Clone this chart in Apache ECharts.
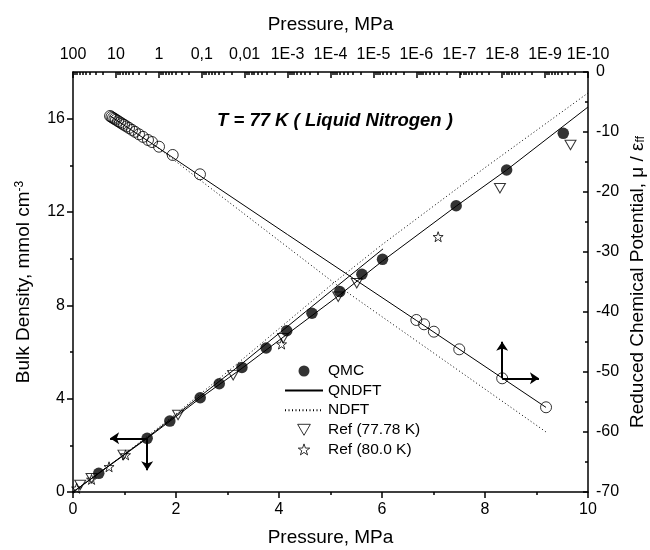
<!DOCTYPE html>
<html>
<head>
<meta charset="utf-8">
<script src="https://cdn.jsdelivr.net/npm/echarts@6.0.0/dist/echarts.min.js"></script>
<style>
  html, body { margin: 0; padding: 0; background: #fff; }
  #chart-container { width: 650px; height: 550px; }
</style>
</head>
<body>
<div id="chart-container"></div>
<script>
// density vs pressure (bottom / left axes)
var qmcP   = [0.5, 1.44, 1.88, 2.47, 2.84, 3.28, 3.75, 4.15, 4.64, 5.18, 5.61, 6.01, 7.44, 8.42, 9.52];
var qmcRho = [0.8, 2.30, 3.04, 4.04, 4.64, 5.34, 6.17, 6.91, 7.66, 8.59, 9.33, 9.97, 12.27, 13.80, 15.37];

var qndftP    = [0, 1.44, 2.47, 3.28, 4.15, 5.18, 6.01, 7.44, 8.42, 10];
var qndftRho  = [0, 2.30, 4.02, 5.30, 6.75, 8.45, 9.90, 12.25, 13.80, 16.5];
var qndft2P   = [0, 1.44, 3.28, 4.64, 6.02];
var qndft2Rho = [0, 2.33, 5.50, 7.95, 10.42];

var ndftP   = [0, 1, 2, 3, 4, 5, 6, 7, 8, 9, 10];
var ndftRho = [0, 1.62, 3.35, 5.15, 7.0, 8.85, 10.6, 12.25, 13.9, 15.5, 17.1];

var ref77P   = [0.14, 0.36, 0.98, 2.04, 3.11, 4.08, 5.15, 5.51, 8.29, 9.66];
var ref77Rho = [0.30, 0.59, 1.59, 3.30, 5.01, 6.59, 8.37, 8.95, 13.02, 14.87];

var ref80P   = [0.07, 0.36, 0.70, 1.02, 4.05, 7.09];
var ref80Rho = [0.16, 0.54, 1.08, 1.59, 6.34, 10.94];

// chemical potential vs pressure (top log axis / right axis)
var muP = [13.7, 12.7, 11.7, 10.8, 9.95, 8.93, 8.04, 7.21, 6.47, 5.66, 4.95, 4.22, 3.59,
           2.90, 2.34, 1.79, 1.44, 0.99, 0.475, 0.110, 1.0e-6, 6.6e-7, 3.9e-7, 1.0e-7, 1.0e-8, 9.5e-10];
var muVal = [-7.33, -7.49, -7.65, -7.80, -7.96, -8.18, -8.39, -8.60, -8.81, -9.07, -9.33, -9.65, -9.97,
             -10.39, -10.81, -11.33, -11.67, -12.45, -13.83, -17.05, -41.33, -42.05, -43.28, -46.22, -51.05, -55.88];

var qndftMuP = [13.8, 1, 1e-3, 1e-6, 9.5e-10];
var qndftMu  = [-7.3, -12.7, -27.1, -41.4, -55.9];
var ndftMuP  = [1.2, 7.1e-5, 9.5e-10];
var ndftMu   = [-12.3, -35.5, -60.0];

// axis ticks
var leftTicks = [0, 4, 8, 12, 16];
var topTicks = [100, 10, 1, 0.1, 0.01, 1e-3, 1e-4, 1e-5, 1e-6, 1e-7, 1e-8, 1e-9, 1e-10];
var topTickLabels = ['100', '10', '1', '0,1', '0,01', '1E-3', '1E-4', '1E-5', '1E-6', '1E-7', '1E-8', '1E-9', '1E-10'];
var topMinorTicks = [];
topTicks.slice(1).forEach(function (d) {
  for (var k = 2; k <= 9; k++) topMinorTicks.push(k * d);
});

function pairs(xs, ys) {
  return xs.map(function (x, i) { return [x, ys[i]]; });
}

var FONT = '"Liberation Sans", Arial, sans-serif';
var BLACK = '#000';
var starPath = 'path://M12,0 L14.8,8.3 L23.4,8.4 L16.5,13.6 L19.1,21.9 L12,16.9 L4.9,21.9 L7.5,13.6 L0.6,8.4 L9.2,8.3 Z';
var downTriPath = 'path://M0,0 L12,0 L6,10.4 Z';

var axisLine = { show: true, onZero: false, lineStyle: { color: BLACK, width: 1.5 } };
var tickStyle = { color: BLACK, width: 1.5 };
var labelStyle = { color: BLACK, fontSize: 16, fontFamily: FONT };
var nameStyle = { color: BLACK, fontSize: 19, fontFamily: FONT };
var openMarker = { color: 'transparent', borderColor: BLACK, borderWidth: 1 };

var dom = document.getElementById('chart-container');
var myChart = echarts.init(dom, null, { renderer: 'canvas' });

var option = {
  animation: false,
  backgroundColor: '#fff',
  grid: { left: 73, right: 62, top: 72, bottom: 58, outerBoundsMode: 'none', containLabel: false },
  legend: {
    data: [
      { name: 'QMC', icon: 'circle' },
      { name: 'QNDFT' },
      { name: 'NDFT' },
      { name: 'Ref (77.78 K)', icon: downTriPath },
      { name: 'Ref (80.0 K)', icon: starPath }
    ],
    orient: 'vertical',
    left: 284,
    top: 363,
    padding: 0,
    itemWidth: 38,
    itemHeight: 11,
    itemGap: 3.6,
    symbolKeepAspect: true,
    selectedMode: false,
    itemStyle: { borderWidth: 1 },
    textStyle: { color: BLACK, fontSize: 15.5, fontFamily: FONT, lineHeight: 16 }
  },
  graphic: [{
    type: 'text',
    left: 217,
    top: 111,
    style: {
      text: 'T = 77 K ( Liquid Nitrogen )',
      font: 'italic bold 18.5px ' + FONT,
      fill: BLACK
    }
  }],
  xAxis: [{
    type: 'value', position: 'bottom', min: 0, max: 10, interval: 2,
    axisLine: axisLine,
    axisTick: { inside: false, length: 6, lineStyle: tickStyle },
    minorTick: { show: true, splitNumber: 2, length: 3, lineStyle: tickStyle },
    axisLabel: Object.assign({ margin: 10 }, labelStyle),
    splitLine: { show: false },
    name: 'Pressure, MPa', nameLocation: 'middle', nameGap: 36, nameTextStyle: nameStyle, nameMoveOverlap: false
  }, {
    type: 'log', logBase: 10, position: 'top', min: 1e-10, max: 100, inverse: true,
    axisLine: axisLine,
    axisTick: { inside: true, length: 6, lineStyle: tickStyle, customValues: topTicks },
    axisLabel: Object.assign({
      margin: 9,
      customValues: topTicks,
      formatter: function (v) {
        for (var i = 0; i < topTicks.length; i++) {
          if (Math.abs(Math.log10(v) - Math.log10(topTicks[i])) < 1e-6) return topTickLabels[i];
        }
        return '';
      }
    }, labelStyle),
    minorTick: { show: false },
    splitLine: { show: false },
    name: 'Pressure, MPa', nameLocation: 'middle', nameGap: 38, nameTextStyle: nameStyle, nameMoveOverlap: false
  }, {
    type: 'log', logBase: 10, position: 'top', min: 1e-10, max: 100, inverse: true,
    axisLine: { show: false, onZero: false },
    axisTick: { inside: true, length: 3, lineStyle: tickStyle, customValues: topMinorTicks },
    axisLabel: { show: false },
    splitLine: { show: false }
  }],
  yAxis: [{
    type: 'value', position: 'left', min: 0, max: 18, interval: 4,
    axisLine: axisLine,
    axisTick: { inside: false, length: 6, lineStyle: tickStyle, customValues: leftTicks },
    minorTick: { show: true, splitNumber: 2, length: 3, lineStyle: tickStyle },
    axisLabel: Object.assign({ margin: 8, customValues: leftTicks }, labelStyle),
    splitLine: { show: false },
    name: 'Bulk Density, mmol cm{sup|-3}', nameLocation: 'middle', nameGap: 40, nameRotate: 90,
    nameMoveOverlap: false,
    nameTextStyle: Object.assign({
      rich: { sup: { fontSize: 12, fontFamily: FONT, color: BLACK, verticalAlign: 'top', lineHeight: 12 } }
    }, nameStyle)
  }, {
    type: 'value', position: 'right', min: -70, max: 0, interval: 10,
    axisLine: axisLine,
    axisTick: { inside: true, length: 5, lineStyle: tickStyle },
    minorTick: { show: true, splitNumber: 2, length: 3, lineStyle: tickStyle },
    axisLabel: Object.assign({ margin: 8 }, labelStyle),
    splitLine: { show: false },
    name: 'Reduced Chemical Potential, \u03bc / \u03b5{sub|ff}', nameLocation: 'middle', nameGap: 40,
    nameRotate: 90, nameMoveOverlap: false,
    nameTextStyle: Object.assign({
      rich: { sub: { fontSize: 12, fontFamily: FONT, color: BLACK, verticalAlign: 'bottom', lineHeight: 12 } }
    }, nameStyle)
  }],
  series: [{
    name: 'QNDFT', type: 'line', xAxisIndex: 0, yAxisIndex: 0,
    data: pairs(qndftP, qndftRho), symbol: 'none', showSymbol: false,
    lineStyle: { color: BLACK, width: 1 }, itemStyle: { color: 'transparent' }, z: 2
  }, {
    name: 'QNDFT', type: 'line', xAxisIndex: 0, yAxisIndex: 0,
    data: pairs(qndft2P, qndft2Rho), symbol: 'none', showSymbol: false,
    lineStyle: { color: BLACK, width: 1 }, itemStyle: { color: 'transparent' }, z: 2
  }, {
    name: 'NDFT', type: 'line', xAxisIndex: 0, yAxisIndex: 0,
    data: pairs(ndftP, ndftRho), symbol: 'none', showSymbol: false,
    lineStyle: { color: BLACK, width: 1, type: [1, 2.5] }, itemStyle: { color: 'transparent' }, z: 2
  }, {
    name: 'QNDFT', type: 'line', xAxisIndex: 1, yAxisIndex: 1,
    data: pairs(qndftMuP, qndftMu), symbol: 'none', showSymbol: false,
    lineStyle: { color: BLACK, width: 1 }, itemStyle: { color: 'transparent' }, z: 2
  }, {
    name: 'NDFT', type: 'line', xAxisIndex: 1, yAxisIndex: 1,
    data: pairs(ndftMuP, ndftMu), symbol: 'none', showSymbol: false,
    lineStyle: { color: BLACK, width: 1, type: [1, 2.5] }, itemStyle: { color: 'transparent' }, z: 2
  }, {
    name: 'QMC', type: 'scatter', xAxisIndex: 0, yAxisIndex: 0,
    data: pairs(qmcP, qmcRho), symbol: 'circle', symbolSize: 11.5,
    itemStyle: { color: BLACK }, z: 4,
    markLine: {
      silent: true, symbol: ['none', 'arrow'], symbolSize: 9,
      label: { show: false },
      lineStyle: { color: BLACK, width: 2, type: 'solid' },
      data: [
        [{ coord: [1.44, 2.30] }, { coord: [0.72, 2.30] }],
        [{ coord: [1.44, 2.30] }, { coord: [1.44, 0.93] }]
      ]
    }
  }, {
    name: 'Ref (77.78 K)', type: 'scatter', xAxisIndex: 0, yAxisIndex: 0,
    data: pairs(ref77P, ref77Rho), symbol: downTriPath, symbolSize: [11, 9.5],
    itemStyle: openMarker, z: 4
  }, {
    name: 'Ref (80.0 K)', type: 'scatter', xAxisIndex: 0, yAxisIndex: 0,
    data: pairs(ref80P, ref80Rho), symbol: starPath, symbolSize: 10,
    itemStyle: openMarker, z: 4
  }, {
    name: 'mu', type: 'scatter', xAxisIndex: 1, yAxisIndex: 1,
    data: pairs(muP, muVal), symbol: 'circle', symbolSize: 11,
    itemStyle: openMarker, z: 4,
    markLine: {
      silent: true, symbol: ['none', 'arrow'], symbolSize: 9,
      label: { show: false },
      lineStyle: { color: BLACK, width: 2, type: 'solid' },
      data: [
        [{ coord: [1e-8, -51.05] }, { coord: [1e-8, -44.95] }],
        [{ coord: [1e-8, -51.05] }, { coord: [1.39e-9, -51.05] }]
      ]
    }
  }]
};

myChart.setOption(option);
window.addEventListener('resize', myChart.resize);
</script>
</body>
</html>
